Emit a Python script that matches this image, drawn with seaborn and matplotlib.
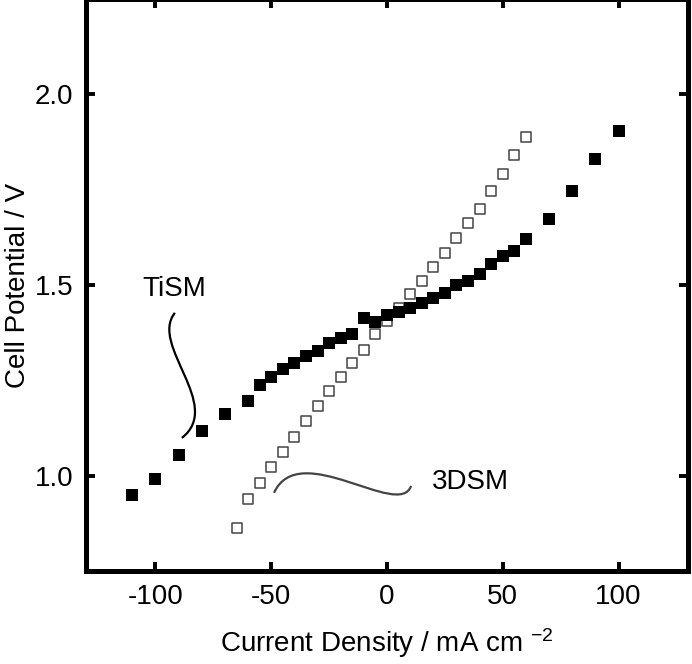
import pandas as pd
import matplotlib.pyplot as plt
from matplotlib.path import Path
from matplotlib.patches import PathPatch
import seaborn as sns

# TiSM (filled squares)
tism_current = [-110, -100, -90, -80, -70, -60, -55, -50, -45, -40, -35, -30, -25, -20, -15,
                -10, -5, 0, 5, 10, 15, 20, 25, 30, 35, 40, 45, 50, 55, 60, 70, 80, 90, 100]
tism_potential = [0.948, 0.990, 1.055, 1.118, 1.162, 1.196, 1.237, 1.260, 1.280, 1.296, 1.314,
                  1.327, 1.348, 1.361, 1.372, 1.414, 1.404, 1.422, 1.430, 1.440, 1.453, 1.466,
                  1.479, 1.500, 1.510, 1.530, 1.555, 1.576, 1.589, 1.620, 1.673, 1.746, 1.830, 1.903]

# 3DSM (open squares)
dsm_current = [-65, -60, -55, -50, -45, -40, -35, -30, -25, -20, -15, -10, -5, 0,
               5, 10, 15, 20, 25, 30, 35, 40, 45, 50, 55, 60]
dsm_potential = [0.864, 0.940, 0.982, 1.024, 1.063, 1.102, 1.144, 1.183, 1.223, 1.259, 1.296,
                 1.330, 1.372, 1.406, 1.440, 1.476, 1.510, 1.547, 1.584, 1.623, 1.662, 1.700,
                 1.746, 1.790, 1.840, 1.887]

xticks = [-100, -50, 0, 50, 100]
yticks = [1.0, 1.5, 2.0]

tism = pd.DataFrame({'current': tism_current, 'potential': tism_potential})
dsm = pd.DataFrame({'current': dsm_current, 'potential': dsm_potential})

sns.set_theme(style='ticks')
plt.rcParams['font.family'] = ['Liberation Sans', 'DejaVu Sans']
plt.rcParams['mathtext.fontset'] = 'custom'
plt.rcParams['mathtext.rm'] = 'Liberation Sans'
plt.rcParams['mathtext.it'] = 'Liberation Sans'
plt.rcParams['axes.unicode_minus'] = False
for key in ['text.color', 'axes.labelcolor', 'xtick.color', 'ytick.color']:
    plt.rcParams[key] = 'black'

fig = plt.figure(figsize=(6.92, 6.64), dpi=100)
ax = fig.add_axes([86 / 692, 93 / 664, 602 / 692, 572 / 664])

sns.scatterplot(data=dsm, x='current', y='potential', marker='s', s=46,
                facecolor='white', edgecolor='#444444', linewidth=1.1, ax=ax, zorder=2)
sns.scatterplot(data=tism, x='current', y='potential', marker='s', s=85,
                color='black', linewidth=0, ax=ax, zorder=3)

#annotation curves
tism_curve = Path([(-91.6, 1.427), (-102.8, 1.343), (-70.4, 1.185), (-88.6, 1.099)],
                  [Path.MOVETO, Path.CURVE4, Path.CURVE4, Path.CURVE4])
ax.add_patch(PathPatch(tism_curve, facecolor='none', edgecolor='black', lw=1.6))
dsm_curve = Path([(-48.8, 0.955), (-38.0, 1.099), (5.2, 0.884), (10.4, 0.973)],
                 [Path.MOVETO, Path.CURVE4, Path.CURVE4, Path.CURVE4])
ax.add_patch(PathPatch(dsm_curve, facecolor='none', edgecolor='#444444', lw=1.6))

ax.text(-92, 1.49, 'TiSM', fontsize=20, ha='center', va='center')
ax.text(36, 0.983, '3DSM', fontsize=20, ha='center', va='center')

ax.set_xlim(-130, 130)
ax.set_ylim(0.75, 2.25)
ax.set_xticks(xticks)
ax.set_yticks(yticks)
ax.set_yticklabels([f'{v:.1f}' for v in yticks])
ax.tick_params(direction='in', length=6.5, width=2.8, labelsize=20,
               top=True, right=True, pad=9)
for sp in ax.spines.values():
    sp.set_linewidth(3.6)
    sp.set_color('black')

ax.set_xlabel(r'Current Density / mA cm $^{-2}$', fontsize=20, labelpad=12)
ax.set_ylabel('Cell Potential / V', fontsize=20, labelpad=3)

fig.savefig('out.png', dpi=100)
